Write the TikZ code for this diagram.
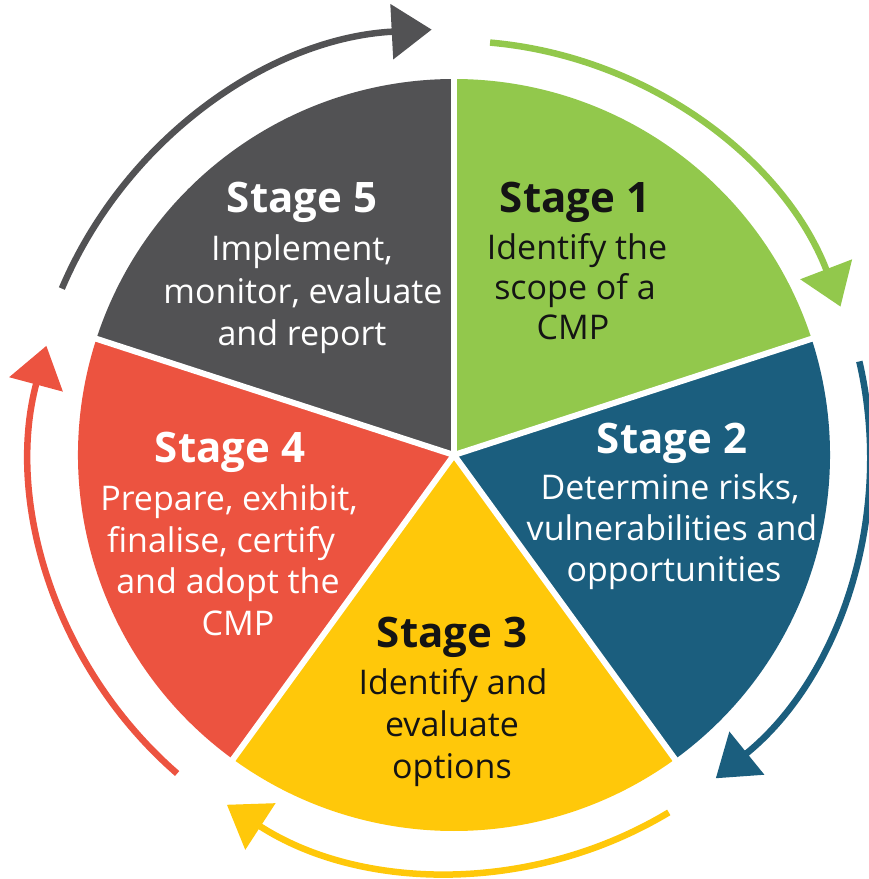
\documentclass[tikz,border=0pt]{standalone}
\usepackage{fontspec}
\setmainfont{Open Sans}
\usetikzlibrary{arrows.meta}
\definecolor{cgreen}{RGB}{146,200,76}
\definecolor{cblue}{RGB}{27,94,126}
\definecolor{cyellow}{RGB}{255,200,10}
\definecolor{cred}{RGB}{236,83,64}
\definecolor{cgray}{RGB}{82,82,84}
\definecolor{ctext}{RGB}{20,20,20}
\begin{document}
\begin{tikzpicture}[x=1pt,y=1pt,
  title/.style={anchor=base, inner sep=0pt, font=\fontsize{42}{48}\selectfont\bfseries},
  body/.style={anchor=base, inner sep=0pt, font=\fontsize{34}{40}\selectfont},
  cyc/.style={line width=6.5pt, -{Triangle[length=40pt,width=54pt]}},
  sep/.style={white, line width=6pt}]
\useasboundingbox (-454,-424) rectangle (415,455);
\def\R{376}
% pie sectors
\fill[cgreen]  (0,0) -- (90:\R)  arc[start angle=90,  end angle=18,   radius=\R] -- cycle;
\fill[cblue]   (0,0) -- (18:\R)  arc[start angle=18,  end angle=-54,  radius=\R] -- cycle;
\fill[cyellow] (0,0) -- (-54:\R) arc[start angle=-54, end angle=-126, radius=\R] -- cycle;
\fill[cred]    (0,0) -- (-126:\R) arc[start angle=-126,end angle=-198, radius=\R] -- cycle;
\fill[cgray]   (0,0) -- (162:\R) arc[start angle=162, end angle=90,   radius=\R] -- cycle;
% separators
\foreach \a in {90,18,-54,-126,162} \draw[sep] (0,0) -- (\a:\R+6);
% cycle arrows
\draw[cyc, cgray]   (157:426) arc[start angle=157, end angle=93,   radius=426];
\draw[cyc, cgreen]  (85:414)  arc[start angle=85,  end angle=21,   radius=414];
\draw[cyc, cblue]   (13:416)  arc[start angle=13,  end angle=-51,  radius=416];
\draw[cyc, cyellow] (-59:417) arc[start angle=-59, end angle=-123, radius=417];
\draw[cyc, cred]    (229:422) arc[start angle=229, end angle=165,  radius=422];
% Stage 5
\node[title, white] (s5t) at (-152,242) {Stage 5};
\node[body, white]  (s5a) at (-152,194) {Implement,};
\node[body, white]  (s5b) at (-151,152) {monitor, evaluate};
\node[body, white]  (s5c) at (-152,110) {and report};
% Stage 1
\node[title, ctext] (s1t) at (121,243) {Stage 1};
\node[body, ctext]  (s1a) at (123,196) {Identify the};
\node[body, ctext]  (s1b) at (121,156) {scope of a};
\node[body, ctext]  (s1c) at (119,116) {CMP};
% Stage 2
\node[title, white] (s2t) at (218,2) {Stage 2};
\node[body, white]  (s2a) at (216,-44) {Determine risks,};
\node[body, white]  (s2b) at (218,-85) {vulnerabilities and};
\node[body, white]  (s2c) at (220,-126) {opportunities};
% Stage 3
\node[title, ctext] (s3t) at (-2,-192) {Stage 3};
\node[body, ctext]  (s3a) at (-1,-239) {Identify and};
\node[body, ctext]  (s3b) at (-2,-281) {evaluate};
\node[body, ctext]  (s3c) at (-2,-323) {options};
% Stage 4
\node[title, white] (s4t) at (-224,-7) {Stage 4};
\node[body, white]  (s4a) at (-225,-55) {Prepare, exhibit,};
\node[body, white]  (s4b) at (-233,-97) {finalise, certify};
\node[body, white]  (s4c) at (-226,-138) {and adopt the};
\node[body, white]  (s4d) at (-216,-180) {CMP};
\end{tikzpicture}
\end{document}
